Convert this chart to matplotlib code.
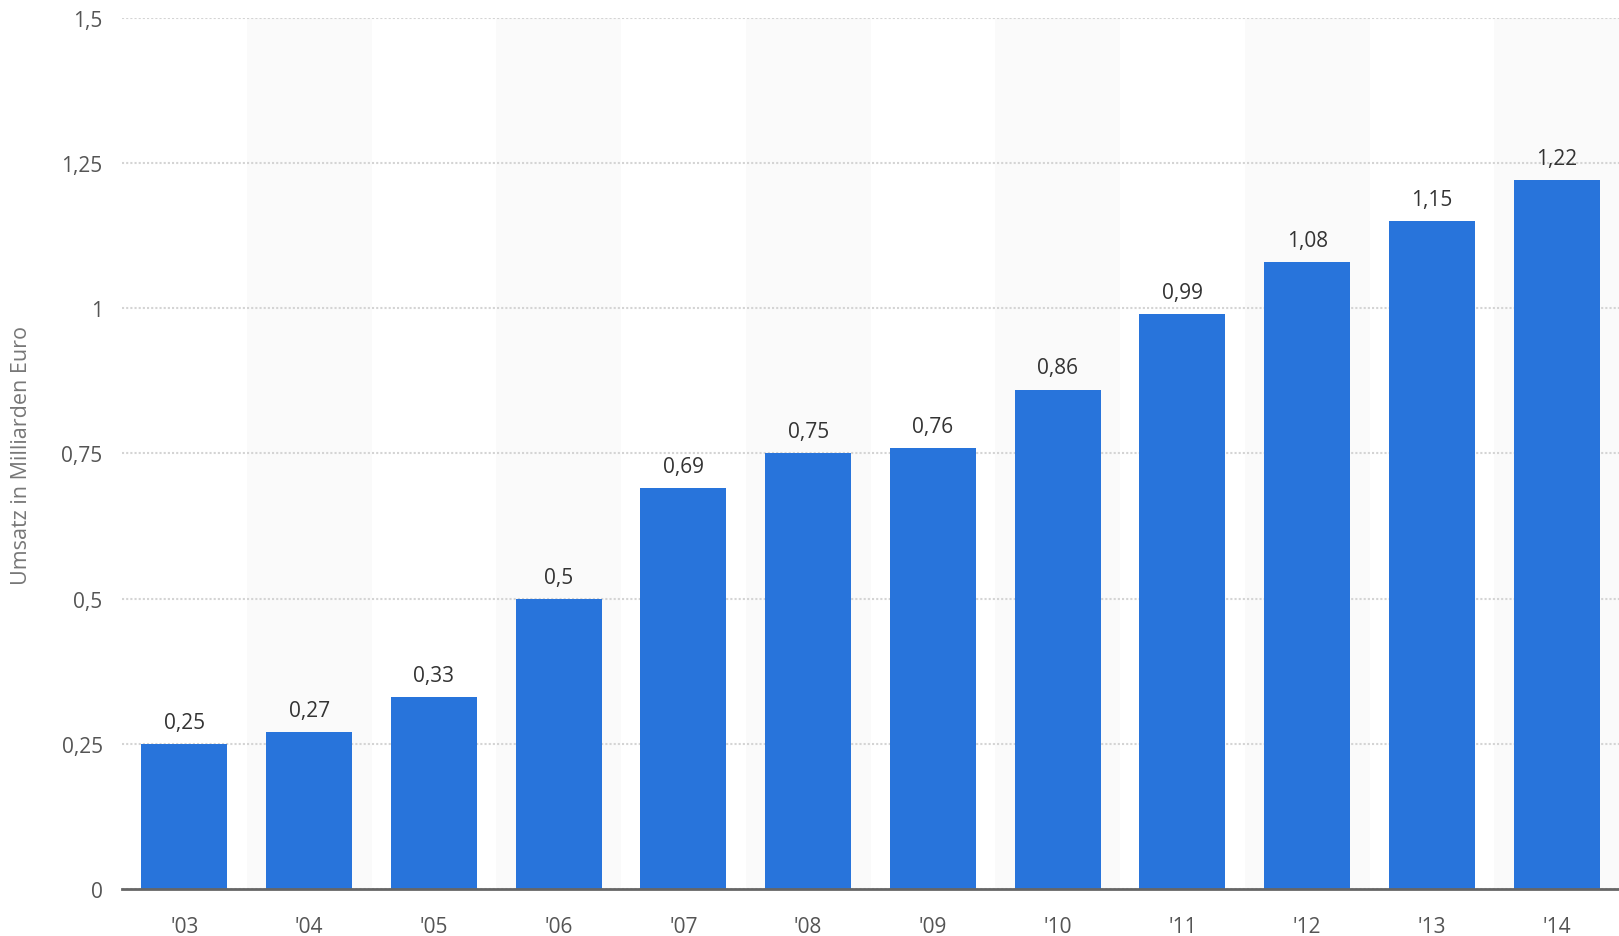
import matplotlib

matplotlib.use("Agg")
import matplotlib.pyplot as plt
from matplotlib.ticker import FixedLocator, FuncFormatter

years = ["'03", "'04", "'05", "'06", "'07", "'08", "'09", "'10", "'11", "'12", "'13", "'14"]
umsatz = [0.25, 0.27, 0.33, 0.5, 0.69, 0.75, 0.76, 0.86, 0.99, 1.08, 1.15, 1.22]
y_ticks = [0, 0.25, 0.5, 0.75, 1, 1.25, 1.5]

BAR_COLOR = "#2874db"
TEXT_COLOR = "#555555"


def de_number(v):
    s = f"{v:.2f}".rstrip("0").rstrip(".")
    return s.replace(".", ",")


plt.rcParams["font.family"] = ["Open Sans", "DejaVu Sans"]

fig = plt.figure(figsize=(16.19, 9.37), dpi=100)
ax = fig.add_axes([0.0754, 0.050, 0.9246, 0.930])

x = list(range(len(years)))

# alternating background bands
for i in x:
    if i % 2 == 1:
        ax.axvspan(i - 0.5, i + 0.5, color="#fafafa", zorder=0, lw=0)

ax.set_ylim(0, 1.5)
ax.set_xlim(-0.5, len(years) - 0.5)
ax.yaxis.set_major_locator(FixedLocator(y_ticks))
ax.yaxis.set_major_formatter(FuncFormatter(lambda v, _: de_number(v)))
ax.grid(axis="y", color="#d4d4d4", linestyle=(0, (1, 1)), linewidth=1.5, zorder=1)
ax.set_axisbelow(True)

ax.bar(x, umsatz, width=0.69, color=BAR_COLOR, zorder=2)
for xi, v in zip(x, umsatz):
    ax.annotate(de_number(v), (xi, v), xytext=(0, 8), textcoords="offset points",
                ha="center", va="bottom", fontsize=15, color="#333333", zorder=3)

ax.set_xticks(x)
ax.set_xticklabels(years)
ax.tick_params(axis="both", length=0, labelsize=15, colors=TEXT_COLOR)
ax.tick_params(axis="x", pad=19)
ax.tick_params(axis="y", pad=14)

for side in ["top", "right", "left"]:
    ax.spines[side].set_visible(False)
ax.spines["bottom"].set_color("#666666")
ax.spines["bottom"].set_linewidth(2)
ax.spines["bottom"].set_zorder(4)

fig.text(0.0135, 0.514, "Umsatz in Milliarden Euro", rotation=90, ha="center",
         va="center", fontsize=15.5, color="#777777")

fig.savefig("out.png", dpi=100)
